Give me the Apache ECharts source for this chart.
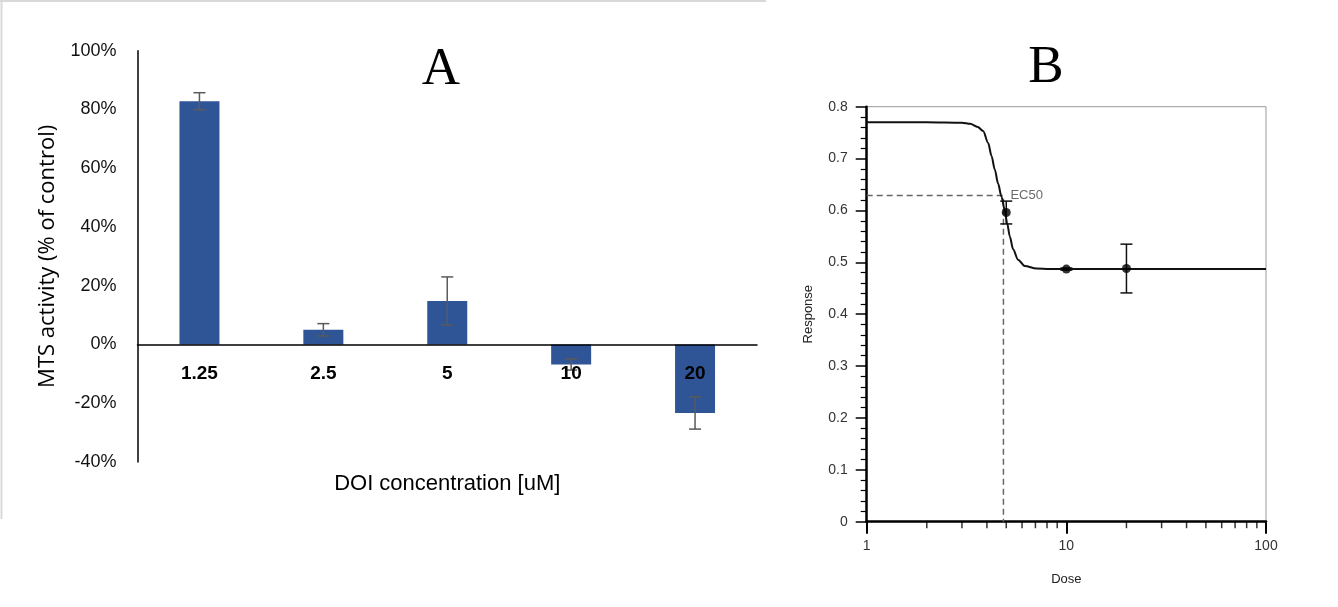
<!DOCTYPE html>
<html>
<head>
<meta charset="utf-8">
<script src="https://cdn.jsdelivr.net/npm/echarts@6/dist/echarts.min.js"></script>
<style>
  html, body { margin: 0; padding: 0; background: #fff; }
  #chart { width: 1338px; height: 607px; }
</style>
</head>
<body>
<div id="chart"></div>
<script>
// Panel A: MTS activity bars
const doiLabels = ['1.25', '2.5', '5', '10', '20'];
const mtsActivity = [82.8, 5.0, 14.8, -6.8, -23.3];
const mtsError = [2.9, 2.1, 8.2, 1.9, 5.5];

// Panel B: dose-response fit
const curveDose = [1, 2, 3, 3.3, 3.6, 3.83, 4.06, 4.22, 4.38, 4.55, 4.73, 4.91, 5.05, 5.21, 5.41, 5.73, 6.19, 7.08, 8.25, 10, 20, 50, 100];
const curveResponse = [0.770, 0.770, 0.769, 0.767, 0.761, 0.753, 0.730, 0.705, 0.679, 0.652, 0.627, 0.601, 0.576, 0.550, 0.525, 0.505, 0.493, 0.488, 0.487, 0.487, 0.487, 0.487, 0.487];
const pointDose = [5, 10, 20];
const pointResponse = [0.596, 0.487, 0.488];
const pointError = [0.022, 0.002, 0.047];
const ec50Dose = 4.84;
const ec50Response = 0.629;
const minorTickDoses = [2, 3, 4, 5, 6, 7, 8, 9, 20, 30, 40, 50, 60, 70, 80, 90];

const chart = echarts.init(document.getElementById('chart'));

// error bar drawer, shared by both panels
function errorBars(capHalf, color, width) {
    return function (params, api) {
        const x = api.value(0), y = api.value(1), e = api.value(2);
        const hi = api.coord([x, y + e]);
        const lo = api.coord([x, y - e]);
        const st = { stroke: color, lineWidth: width };
        return {
            type: 'group',
            children: [
                { type: 'line', shape: { x1: hi[0], y1: hi[1], x2: lo[0], y2: lo[1] }, style: st },
                { type: 'line', shape: { x1: hi[0] - capHalf, y1: hi[1], x2: hi[0] + capHalf, y2: hi[1] }, style: st },
                { type: 'line', shape: { x1: lo[0] - capHalf, y1: lo[1], x2: lo[0] + capHalf, y2: lo[1] }, style: st }
            ]
        };
    };
}

const option = {
    animation: false,
    backgroundColor: '#fff',
    graphic: [
        { type: 'line', shape: { x1: 1.5, y1: 0, x2: 1.5, y2: 519 }, style: { stroke: '#d9d9d9', lineWidth: 2 } },
        { type: 'line', shape: { x1: 0, y1: 1, x2: 766, y2: 1 }, style: { stroke: '#d9d9d9', lineWidth: 2 } },
        { type: 'text', x: 441, y: 70, style: { text: 'A', font: '53px "Liberation Serif", serif', fill: '#000', textAlign: 'center', textVerticalAlign: 'middle' } },
        { type: 'text', x: 1046, y: 68, style: { text: 'B', font: '53px "Liberation Serif", serif', fill: '#000', textAlign: 'center', textVerticalAlign: 'middle' } }
    ],
    grid: [
        { left: 137.5, right: 581, top: 50.7, bottom: 145, outerBoundsMode: 'none', containLabel: false },
        { left: 866.7, right: 72, top: 106.7, bottom: 85.3, outerBoundsMode: 'none', containLabel: false, show: true, borderColor: '#999', borderWidth: 1 }
    ],
    xAxis: [
        {
            gridIndex: 0, type: 'category', data: doiLabels, z: 10,
            axisLine: { onZero: true, lineStyle: { color: '#000', width: 1.5 } },
            axisTick: { show: false },
            // labels sit just under the zero line, over the negative bars
            axisLabel: { color: '#000', fontFamily: 'Liberation Sans', fontWeight: 'bold', fontSize: 19, margin: -98 },
            name: 'DOI concentration [uM]', nameLocation: 'middle', nameGap: 11,
            nameTextStyle: { color: '#000', fontFamily: 'Liberation Sans', fontSize: 22 }
        },
        {
            gridIndex: 1, type: 'log', logBase: 10, min: 1, max: 100,
            axisLine: { lineStyle: { color: '#000', width: 2.5 } },
            axisTick: { length: 12, lineStyle: { color: '#000', width: 2 } },
            axisLabel: { color: '#333', fontFamily: 'Liberation Sans', fontSize: 14, margin: 17 },
            splitLine: { show: false },
            name: 'Dose', nameLocation: 'middle', nameGap: 51,
            nameTextStyle: { color: '#222', fontFamily: 'Liberation Sans', fontSize: 13 }
        }
    ],
    yAxis: [
        {
            gridIndex: 0, type: 'value', min: -40, max: 100, interval: 20,
            axisLine: { show: true, lineStyle: { color: '#000', width: 1.5 } },
            axisTick: { show: false },
            splitLine: { show: false },
            axisLabel: { color: '#111', fontFamily: 'Liberation Sans', fontSize: 18, margin: 21, formatter: '{value}%' },
            name: 'MTS activity (% of control)', nameLocation: 'middle', nameRotate: 90, nameGap: 79,
            nameTextStyle: { color: '#000', fontFamily: 'Open Sans', fontSize: 22 }
        },
        {
            gridIndex: 1, type: 'value', min: 0, max: 0.8, interval: 0.1,
            axisLine: { show: true, lineStyle: { color: '#000', width: 2.5 } },
            axisTick: { length: 11, lineStyle: { color: '#000', width: 1.5 } },
            minorTick: { show: true, splitNumber: 5, length: 6, lineStyle: { color: '#000', width: 1.2 } },
            splitLine: { show: false },
            axisLabel: { color: '#333', fontFamily: 'Liberation Sans', fontSize: 14, margin: 19, formatter: v => String(Math.round(v * 10) / 10) },
            name: 'Response', nameLocation: 'middle', nameRotate: 90, nameGap: 52,
            nameTextStyle: { color: '#222', fontFamily: 'Liberation Sans', fontSize: 13 }
        }
    ],
    series: [
        {
            type: 'bar', xAxisIndex: 0, yAxisIndex: 0,
            data: mtsActivity, barWidth: 40,
            itemStyle: { color: '#2F5597' }
        },
        {
            type: 'custom', xAxisIndex: 0, yAxisIndex: 0, z: 5,
            renderItem: errorBars(6, '#5a5a5a', 1.5),
            data: mtsActivity.map((v, i) => [i, v, mtsError[i]])
        },
        // panel B
        {
            type: 'line', xAxisIndex: 1, yAxisIndex: 1,
            data: [[1, ec50Response], [ec50Dose, ec50Response], [ec50Dose, 0]],
            symbol: 'none',
            lineStyle: { color: '#666', width: 1.5, type: [6, 4] }
        },
        {
            type: 'line', xAxisIndex: 1, yAxisIndex: 1,
            data: curveDose.map((d, i) => [d, curveResponse[i]]),
            smooth: 0.3, smoothMonotone: 'x', symbol: 'none',
            lineStyle: { color: '#111', width: 2 }
        },
        {
            type: 'custom', xAxisIndex: 1, yAxisIndex: 1, z: 4,
            renderItem: errorBars(6, '#111', 1.5),
            data: pointDose.map((d, i) => [d, pointResponse[i], pointError[i]])
        },
        {
            type: 'scatter', xAxisIndex: 1, yAxisIndex: 1, z: 5,
            data: pointDose.map((d, i) => [d, pointResponse[i]]),
            symbol: 'circle', symbolSize: 9,
            itemStyle: { color: '#000' }
        },
        {
            type: 'scatter', xAxisIndex: 1, yAxisIndex: 1,
            data: [[ec50Dose, ec50Response]],
            symbolSize: 0,
            label: { show: true, position: 'right', distance: 7, formatter: 'EC50', color: '#444', fontFamily: 'Liberation Sans', fontSize: 13 }
        },
        {
            type: 'scatter', xAxisIndex: 1, yAxisIndex: 1,
            data: minorTickDoses.map(d => [d, 0]),
            symbol: 'rect', symbolSize: [1.5, 7], symbolOffset: [0, 3],
            itemStyle: { color: '#000' }
        }
    ]
};
chart.setOption(option);
</script>
</body>
</html>
